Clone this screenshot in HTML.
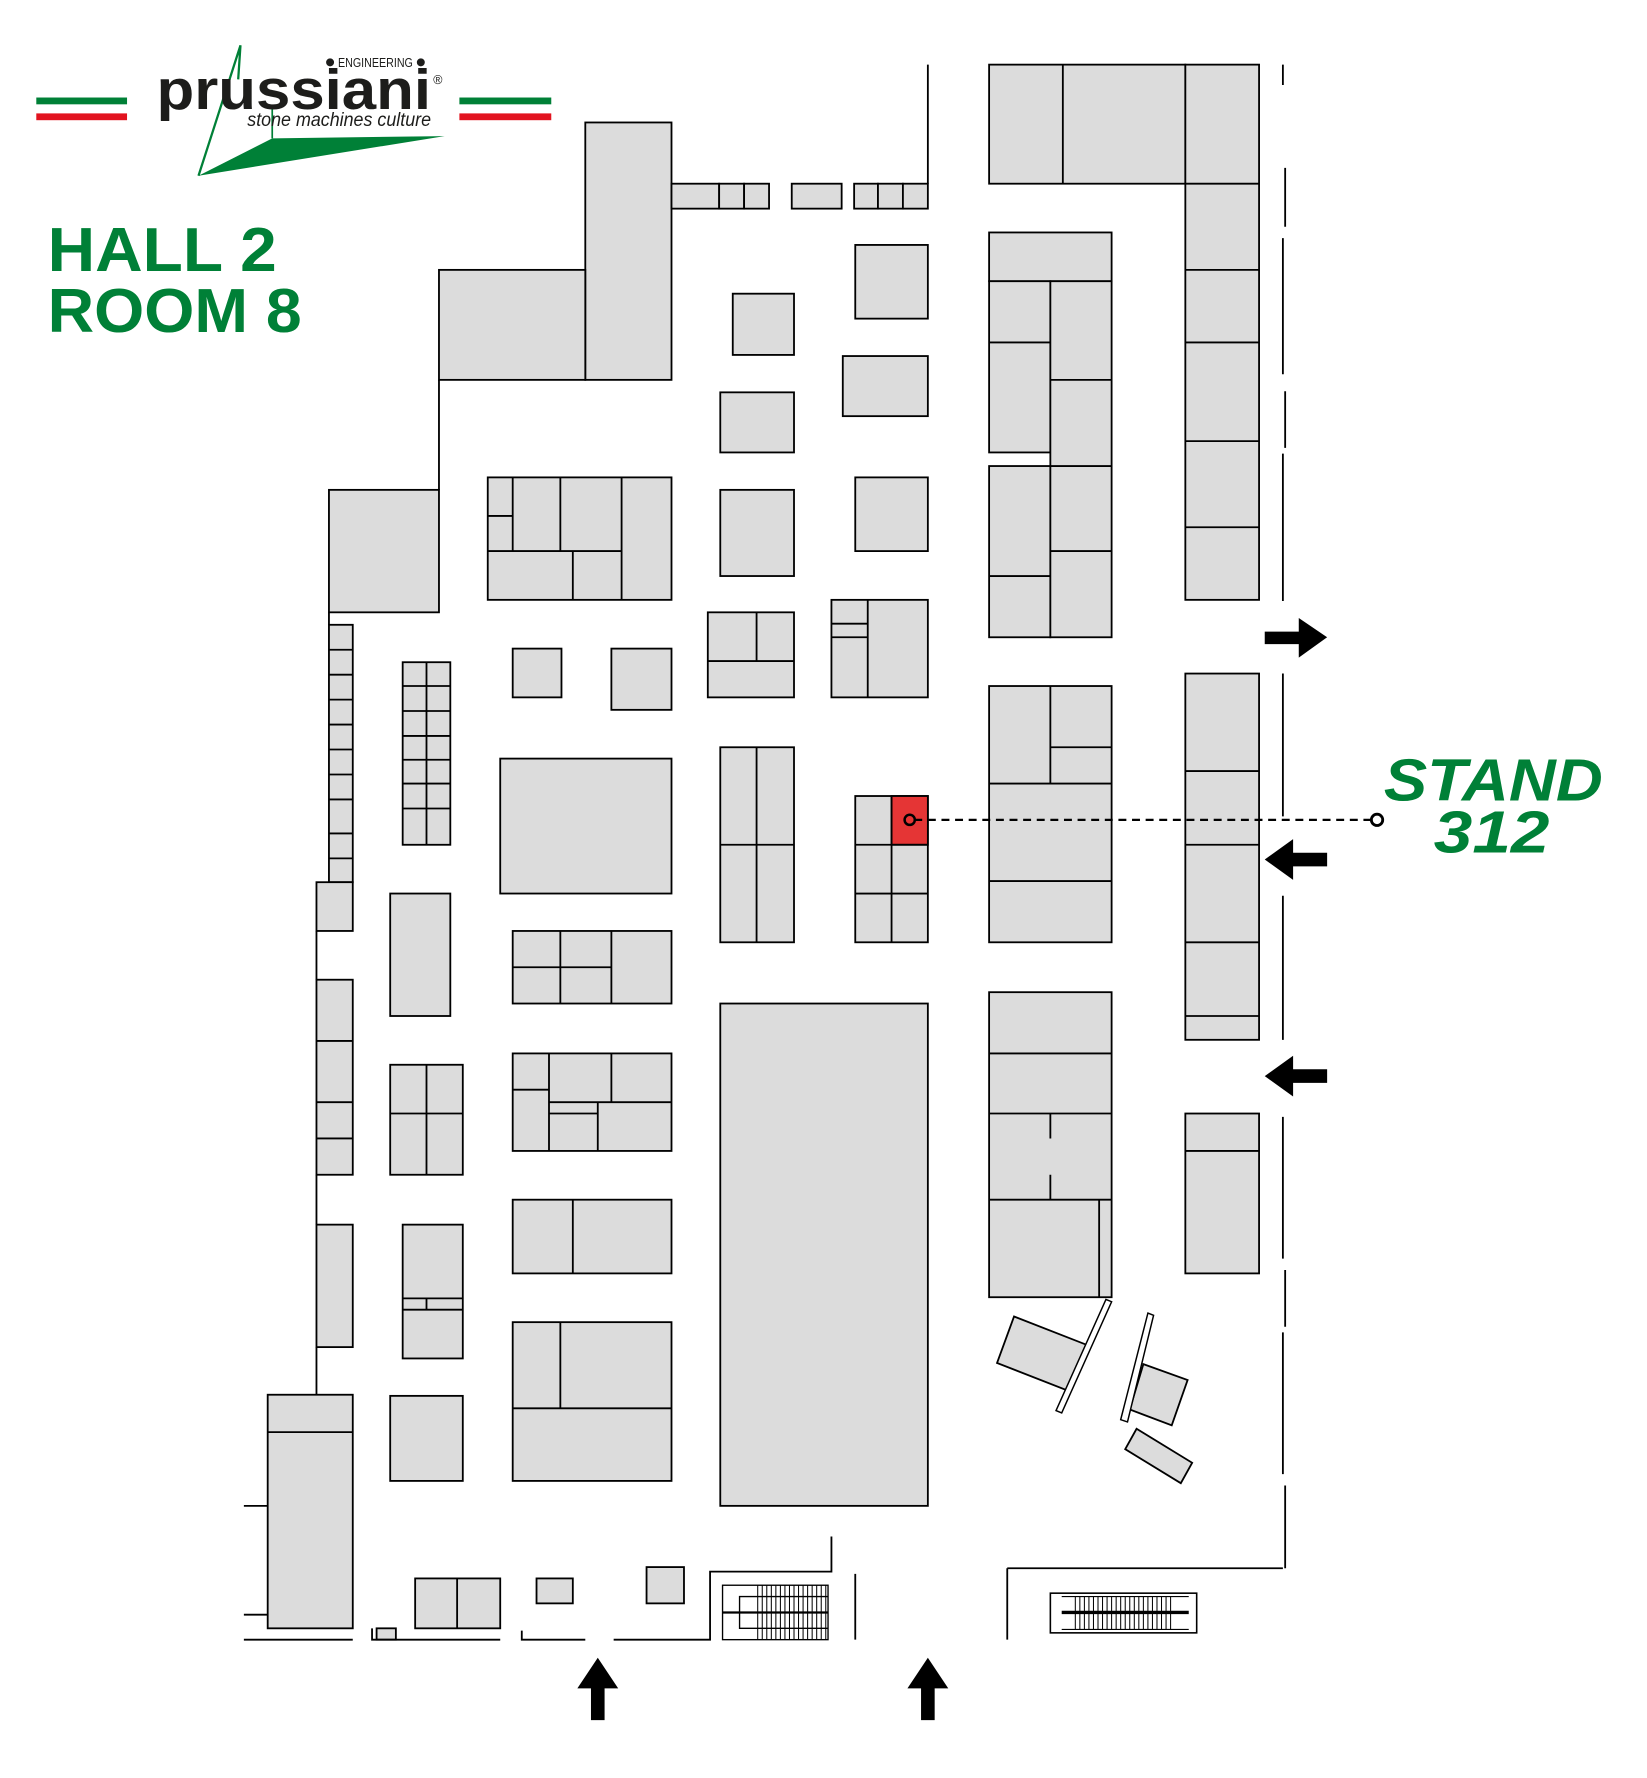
<!DOCTYPE html>
<html><head><meta charset="utf-8"><style>
html,body{margin:0;padding:0;background:#fff;width:1647px;height:1778px;overflow:hidden}
svg{display:block}
</style></head><body>
<svg width="1647" height="1778" viewBox="0 0 1452 1568" preserveAspectRatio="none" xmlns="http://www.w3.org/2000/svg">
<rect width="1452" height="1568" fill="#fff"/>
<rect x="32" y="86" width="80" height="6" fill="#008037"/>
<rect x="32" y="100" width="80" height="6" fill="#e2131f"/>
<rect x="405" y="86" width="81" height="6" fill="#008037"/>
<rect x="405" y="100" width="81" height="6" fill="#e2131f"/>
<polygon points="175,155 240,122 392,120" fill="#008037"/>
<polyline points="175,155 212,40 210,70" fill="none" stroke="#008037" stroke-width="2"/>
<line x1="240" y1="122" x2="240" y2="95" stroke="#008037" stroke-width="1.5"/>
<text x="138" y="96" font-family="Liberation Sans, sans-serif" font-weight="bold" font-size="50" fill="#1d1d1b" textLength="242" lengthAdjust="spacingAndGlyphs">prussiani</text>
<text x="298" y="59" font-family="Liberation Sans, sans-serif" font-size="11" fill="#1d1d1b" textLength="66" lengthAdjust="spacingAndGlyphs">ENGINEERING</text>
<circle cx="291" cy="55" r="3.5" fill="#1d1d1b"/><circle cx="371" cy="55" r="3.5" fill="#1d1d1b"/>
<text x="382" y="74" font-family="Liberation Sans, sans-serif" font-size="11" fill="#1d1d1b">®</text>
<text x="218" y="111" font-family="Liberation Sans, sans-serif" font-style="italic" font-size="17" fill="#1d1d1b" textLength="162" lengthAdjust="spacingAndGlyphs">stone machines culture</text>
<text x="42" y="239" font-family="Liberation Sans, sans-serif" font-weight="bold" font-size="55" fill="#008037" textLength="202" lengthAdjust="spacingAndGlyphs">HALL 2</text>
<text x="42" y="293" font-family="Liberation Sans, sans-serif" font-weight="bold" font-size="55" fill="#008037" textLength="224" lengthAdjust="spacingAndGlyphs">ROOM 8</text>
<text x="1220" y="706" font-family="Liberation Sans, sans-serif" font-weight="bold" font-style="italic" font-size="52" fill="#008037" textLength="193" lengthAdjust="spacingAndGlyphs">STAND</text>
<text x="1264" y="752" font-family="Liberation Sans, sans-serif" font-weight="bold" font-style="italic" font-size="52" fill="#008037" textLength="102" lengthAdjust="spacingAndGlyphs">312</text>

<g fill="#dcdcdc" stroke="#000" stroke-width="1.6">
<rect x="516" y="108" width="76" height="227"/>
<rect x="387" y="238" width="129" height="97"/>
<rect x="592" y="162" width="42" height="22"/><rect x="634" y="162" width="22" height="22"/><rect x="656" y="162" width="22" height="22"/>
<rect x="698" y="162" width="44" height="22"/><rect x="753" y="162" width="21" height="22"/><rect x="774" y="162" width="22" height="22"/><rect x="796" y="162" width="22" height="22"/>
<rect x="290" y="432" width="97" height="108"/>
<rect x="290" y="551" width="21" height="227"/>
<rect x="279" y="778" width="32" height="43"/>
<rect x="279" y="864" width="32" height="172"/>
<rect x="279" y="1080" width="32" height="108"/>
<rect x="236" y="1230" width="75" height="206"/>
<rect x="355" y="584" width="42" height="161"/>
<rect x="344" y="788" width="53" height="108"/>
<rect x="344" y="939" width="64" height="97"/>
<rect x="355" y="1080" width="53" height="118"/>
<rect x="344" y="1231" width="64" height="75"/>
<rect x="430" y="421" width="162" height="108"/>
<rect x="452" y="572" width="43" height="43"/>
<rect x="539" y="572" width="53" height="54"/>
<rect x="441" y="669" width="151" height="119"/>
<rect x="452" y="821" width="140" height="64"/>
<rect x="452" y="929" width="140" height="86"/>
<rect x="452" y="1058" width="140" height="65"/>
<rect x="452" y="1166" width="140" height="140"/>
<rect x="646" y="259" width="54" height="54"/>
<rect x="635" y="346" width="65" height="53"/>
<rect x="635" y="432" width="65" height="76"/>
<rect x="624" y="540" width="76" height="75"/>
<rect x="635" y="659" width="65" height="172"/>
<rect x="635" y="885" width="183" height="443"/>
<rect x="754" y="216" width="64" height="65"/>
<rect x="743" y="314" width="75" height="53"/>
<rect x="754" y="421" width="64" height="65"/>
<rect x="733" y="529" width="85" height="86"/>
<rect x="754" y="702" width="64" height="129"/>
<rect x="872" y="57" width="173" height="105"/>
<rect x="1045" y="57" width="65" height="472"/>
<rect x="872" y="205" width="108" height="43"/>
<rect x="872" y="248" width="54" height="151"/>
<rect x="872" y="411" width="54" height="151"/>
<rect x="926" y="248" width="54" height="314"/>
<rect x="872" y="605" width="108" height="226"/>
<rect x="872" y="875" width="108" height="269"/>
<rect x="1045" y="594" width="65" height="323"/>
<rect x="1045" y="982" width="65" height="141"/>
<polygon points="894,1161 958,1186 943,1227 879,1202"/>
<polygon points="1008,1203 1047,1217 1033,1257 996,1243"/>
<polygon points="1002,1260 1051,1290 1041,1308 992,1278"/>
<rect x="366" y="1392" width="75" height="44"/>
<rect x="473" y="1392" width="32" height="22"/>
<rect x="570" y="1382" width="33" height="32"/>
<rect x="332" y="1436" width="17" height="10"/>
</g>
<rect x="786" y="702" width="32" height="43" fill="#e53535" stroke="#000" stroke-width="1.6"/>

<g fill="none" stroke="#000" stroke-width="1.6">
<path d="M376,584V745 M355,605H397 M355,627H397 M355,649H397 M355,670H397 M355,691H397 M355,713H397"/>
<path d="M290,573H311 M290,595H311 M290,617H311 M290,639H311 M290,661H311 M290,683H311 M290,705H311 M290,735H311 M290,757H311"/>
<path d="M279,918H311 M279,972H311 M279,1004H311 M236,1263H311"/>
<path d="M376,939V1036 M344,982H408 M355,1145H408 M355,1155H408 M376,1145V1155"/>
<path d="M452,421V486 M430,455H452 M494,421V486 M548,421V529 M430,486H548 M505,486V529"/>
<path d="M494,821V885 M539,821V885 M452,853H539"/>
<path d="M484,929V1015 M452,961H484 M539,929V972 M484,972H592 M484,982H527 M527,972V1015"/>
<path d="M505,1058V1123 M494,1166V1242 M452,1242H592"/>
<path d="M667,540V583 M624,583H700 M667,659V831 M635,745H700"/>
<path d="M765,529V615 M733,550H765 M733,562H765"/>
<path d="M786,702V831 M754,745H818 M754,788H818"/>
<path d="M937,57V162 M1045,162H1110 M1045,238H1110 M1045,302H1110 M1045,389H1110 M1045,465H1110"/>
<path d="M872,302H926 M872,508H926 M926,335H980 M926,411H980 M926,486H980"/>
<path d="M926,605V691 M926,659H980 M872,691H980 M872,777H980"/>
<path d="M872,929H980 M872,982H980 M872,1058H980 M926,982V1004 M926,1036V1058 M969,1058V1144"/>
<path d="M1045,680H1110 M1045,745H1110 M1045,831H1110 M1045,896H1110 M1045,1015H1110"/>
<path d="M818,57V162 M387,335V432 M290,540V551 M279,821V864 M279,1036V1080 M279,1188V1230 M215,1328H236 M215,1424H236 M215,1446H311"/>
<path d="M1131,57V75 M1133,148V200 M1131,210V330 M1133,345V395 M1131,400V530 M1131,594V720 M1131,790V917 M1131,985V1110 M1133,1120V1170 M1131,1175V1300 M1133,1310V1383 M888,1383H1131 M888,1383V1446"/>
<path d="M733,1355V1386 H626 V1446 H541 M754,1388V1446 M460,1438V1446H516 M328,1436V1446H441 M403,1392V1436"/>
<rect x="637" y="1398" width="93" height="48" stroke-width="1.2"/>
<path d="M730,1408H652V1436H730" stroke-width="1.2"/>
<path d="M637,1422H730" stroke-width="2"/>
<polygon points="975,1146 980,1148 936,1246 931,1244" fill="#fff" stroke-width="1.3"/>
<polygon points="1012,1158 1017,1160 994,1254 988,1252" fill="#fff" stroke-width="1.3"/>
<rect x="926" y="1405" width="129" height="35" stroke-width="1.4"/>
<path d="M936,1422H1048" stroke-width="3"/>
<path d="M936,1408H1048 M936,1437H1048" stroke-width="1"/>
</g>
<g stroke="#000" stroke-width="0.9">
<path d="M668,1398V1446 M672,1398V1446 M676,1398V1446 M680,1398V1446 M684,1398V1446 M688,1398V1446 M692,1398V1446 M696,1398V1446 M700,1398V1446 M704,1398V1446 M708,1398V1446 M712,1398V1446 M716,1398V1446 M720,1398V1446 M724,1398V1446 M728,1398V1446"/>
<path d="M948,1408V1437 M952,1408V1437 M956,1408V1437 M960,1408V1437 M964,1408V1437 M968,1408V1437 M972,1408V1437 M976,1408V1437 M980,1408V1437 M984,1408V1437 M988,1408V1437 M992,1408V1437 M996,1408V1437 M1000,1408V1437 M1004,1408V1437 M1008,1408V1437 M1012,1408V1437 M1016,1408V1437 M1020,1408V1437 M1024,1408V1437 M1028,1408V1437 M1032,1408V1437"/>
</g>
<line x1="806" y1="723" x2="1208" y2="723" stroke="#000" stroke-width="2" stroke-dasharray="7,5"/>
<circle cx="802" cy="723" r="4.5" fill="#e53535" stroke="#000" stroke-width="2.2"/>
<circle cx="1214" cy="723" r="5" fill="#fff" stroke="#000" stroke-width="2.5"/>
<g fill="#000">
<polygon points="1115,557 1145,557 1145,545 1170,562 1145,580 1145,568 1115,568"/>
<polygon points="1170,752 1140,752 1140,740 1115,758 1140,776 1140,764 1170,764"/>
<polygon points="1170,943 1140,943 1140,931 1115,949 1140,967 1140,955 1170,955"/>
<polygon points="509,1489 527,1462 545,1489 533,1489 533,1517 521,1517 521,1489"/>
<polygon points="800,1489 818,1462 836,1489 824,1489 824,1517 812,1517 812,1489"/>
</g>
</svg>
</body></html>
